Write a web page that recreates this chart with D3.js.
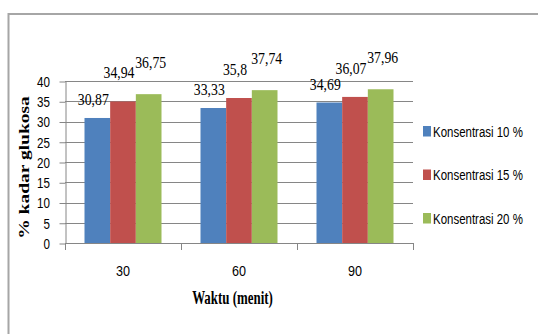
<!DOCTYPE html>
<html>
<head>
<meta charset="utf-8">
<script src="https://cdn.jsdelivr.net/npm/d3@7"></script>
<style>
  html, body { margin: 0; padding: 0; background: #ffffff; }
  svg { display: block; }
</style>
</head>
<body>
<svg id="chart" width="538" height="334"></svg>
<script>
// Waktu (menit) on the category axis, one series per glucose concentration
const categories = ["30", "60", "90"];
const seriesNames = ["Konsentrasi 10 %", "Konsentrasi 15 %", "Konsentrasi 20 %"];
const konsentrasi10 = [30.87, 33.33, 34.69];
const konsentrasi15 = [34.94, 35.8, 36.07];
const konsentrasi20 = [36.75, 37.74, 37.96];
const yTickValues = [0, 5, 10, 15, 20, 25, 30, 35, 40];
const yTitle = "% kadar glukosa";
const xTitle = "Waktu (menit)";

const seriesValues = [konsentrasi10, konsentrasi15, konsentrasi20];
const colors = ["#4F81BD", "#C0504D", "#9BBB59"];
const gridColor = "#868686";
const sansFont = "'Liberation Sans', Arial, sans-serif";
const serifFont = "'Liberation Serif', 'Times New Roman', serif";

// value labels use a decimal comma
const fmt = v => String(v).replace(".", ",");

const svg = d3.select("#chart");

// outer chart frame
svg.append("rect")
  .attr("x", 8.5).attr("y", 14)
  .attr("width", 560).attr("height", 340)
  .attr("fill", "none")
  .attr("stroke", "#a6a6a6")
  .attr("stroke-width", 2);

const plot = { left: 65, right: 413, top: 81, bottom: 243 };

const x = d3.scaleBand()
  .domain(categories)
  .range([plot.left, plot.right])
  .padding(0);

const inner = d3.scaleBand()
  .domain(d3.range(seriesNames.length))
  .range([19.5, x.bandwidth() - 19.5])
  .padding(0);

const y = d3.scaleLinear()
  .domain([0, 40])
  .range([plot.bottom, plot.top]);

// condensed text: position, then squeeze horizontally
const squeeze = (px, py, k, rotate) =>
  `translate(${px},${py}) scale(${k},1)` + (rotate ? " rotate(-90)" : "");

// horizontal gridlines
svg.append("g")
  .selectAll("line")
  .data(yTickValues.filter(v => v > 0))
  .join("line")
  .attr("x1", plot.left).attr("x2", plot.right)
  .attr("y1", d => Math.round(y(d)) + 0.5)
  .attr("y2", d => Math.round(y(d)) + 0.5)
  .attr("stroke", gridColor)
  .attr("stroke-width", 1);

// bars
const groups = svg.append("g")
  .selectAll("g")
  .data(categories)
  .join("g")
  .attr("transform", d => `translate(${x(d)},0)`);

groups.selectAll("rect")
  .data((c, ci) => seriesValues.map((vals, si) => ({ si, v: vals[ci] })))
  .join("rect")
  .attr("x", d => inner(d.si))
  .attr("width", inner.bandwidth())
  .attr("y", d => y(d.v))
  .attr("height", d => y(0) - y(d.v))
  .attr("fill", d => colors[d.si]);

// y axis
const yAxis = svg.append("g")
  .attr("transform", `translate(${plot.left + 0.5},0)`)
  .call(d3.axisLeft(y).tickValues(yTickValues).tickSize(6).tickSizeOuter(0));
yAxis.select(".domain").attr("stroke", gridColor);
yAxis.selectAll(".tick line").attr("stroke", gridColor)
  .attr("transform", "translate(0,0.5)");
yAxis.selectAll(".tick text")
  .attr("x", null).attr("dy", "0.34em")
  .attr("transform", squeeze(-15.5, 0.5, 0.83))
  .attr("text-anchor", "end")
  .attr("font-family", sansFont)
  .attr("font-size", 14)
  .attr("fill", "#000");
yAxis.attr("font-family", null);

// x axis: baseline and category boundary ticks
const xAxis = svg.append("g");
xAxis.append("line")
  .attr("x1", plot.left).attr("x2", plot.right)
  .attr("y1", plot.bottom + 0.5).attr("y2", plot.bottom + 0.5)
  .attr("stroke", gridColor);
xAxis.selectAll("line.bound")
  .data(categories.map(c => x(c)).concat([plot.right]))
  .join("line")
  .attr("class", "bound")
  .attr("x1", d => Math.round(d) + 0.5).attr("x2", d => Math.round(d) + 0.5)
  .attr("y1", plot.bottom).attr("y2", plot.bottom + 7)
  .attr("stroke", gridColor);
xAxis.selectAll("text")
  .data(categories)
  .join("text")
  .attr("transform", d => squeeze(x(d) + x.bandwidth() / 2, 276, 0.9))
  .attr("text-anchor", "middle")
  .attr("font-family", sansFont)
  .attr("font-size", 14)
  .attr("fill", "#000")
  .text(d => d);

// value labels, staggered per series
const labelLift = [13, 23, 26];
const labelShift = [-4, -4, 2];
groups.selectAll("text")
  .data((c, ci) => seriesValues.map((vals, si) => ({ si, v: vals[ci] })))
  .join("text")
  .attr("transform", d => squeeze(inner(d.si) + inner.bandwidth() / 2 + labelShift[d.si],
                                   y(d.v) - labelLift[d.si], 0.86))
  .attr("text-anchor", "middle")
  .attr("font-family", serifFont)
  .attr("font-size", 16)
  .attr("fill", "#000")
  .text(d => fmt(d.v));

// axis titles
svg.append("text")
  .attr("transform", squeeze(29, 167.5, 0.7, true))
  .attr("text-anchor", "middle")
  .attr("font-family", serifFont)
  .attr("font-weight", "bold")
  .attr("font-size", 19.5)
  .attr("fill", "#000")
  .text(yTitle);

svg.append("text")
  .attr("transform", squeeze(232.5, 304, 0.68))
  .attr("text-anchor", "middle")
  .attr("font-family", serifFont)
  .attr("font-weight", "bold")
  .attr("font-size", 19)
  .attr("fill", "#000")
  .text(xTitle);

// legend
const legend = svg.append("g")
  .selectAll("g")
  .data(seriesNames)
  .join("g")
  .attr("transform", (d, i) => `translate(423,${136.5 + i * 43.5})`);
legend.append("rect")
  .attr("x", 0).attr("y", -10.5)
  .attr("width", 8).attr("height", 10.5)
  .attr("fill", (d, i) => colors[i]);
legend.append("text")
  .attr("transform", squeeze(10, 0, 0.765))
  .attr("font-family", sansFont)
  .attr("font-size", 15)
  .attr("fill", "#000")
  .text(d => d);
</script>
</body>
</html>
